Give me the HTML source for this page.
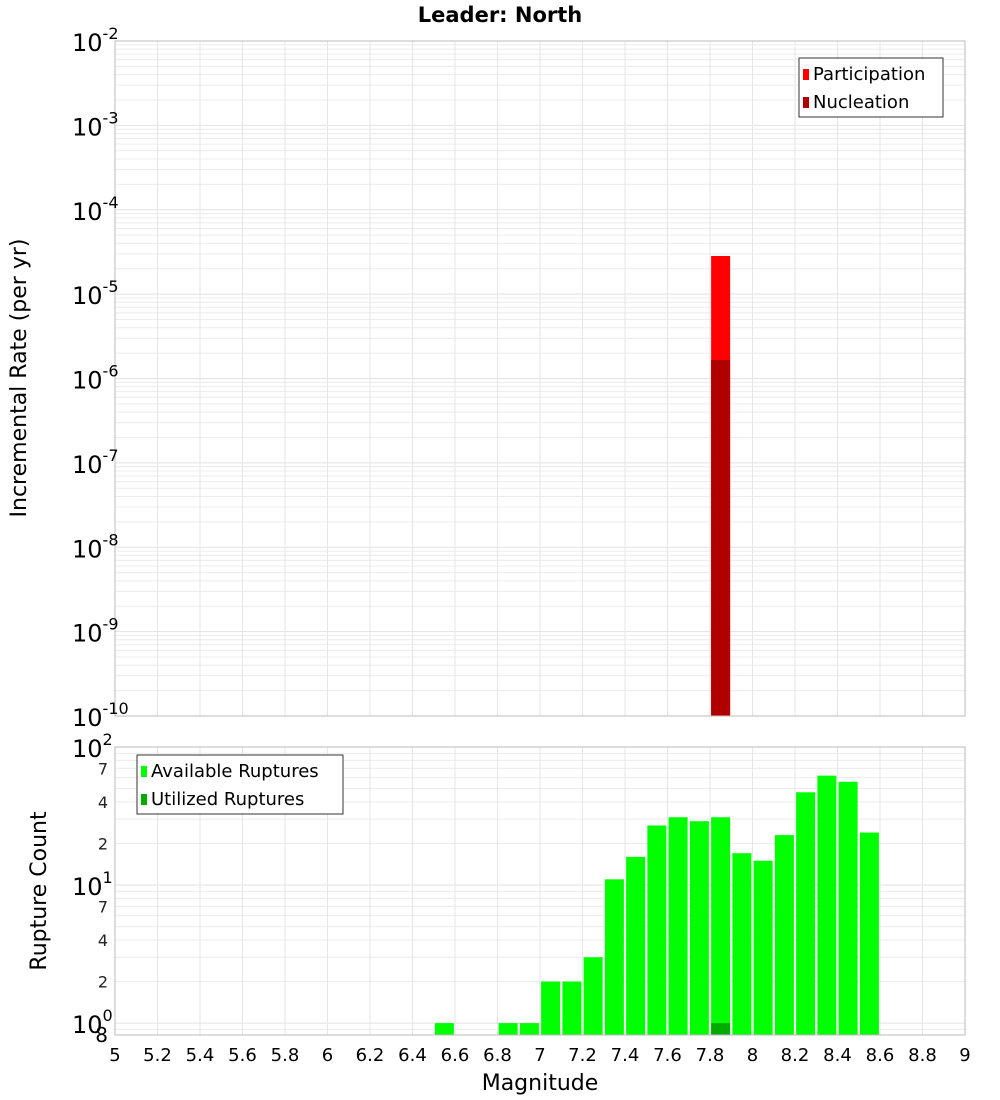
<!DOCTYPE html>
<html><head><meta charset="utf-8"><style>
body{margin:0;background:#fff;font-family:"DejaVu Sans","Liberation Sans",sans-serif}
svg{display:block}
</style></head><body>
<svg id="chart" width="1000" height="1100" xmlns="http://www.w3.org/2000/svg" font-family="DejaVu Sans, Liberation Sans, sans-serif">
<text x="500" y="22" text-anchor="middle" font-size="21" font-weight="bold">Leader: North</text>
<g id="topPlot"></g><g id="botPlot"></g>
<text transform="translate(26,378) rotate(-90)" text-anchor="middle" font-size="22">Incremental Rate (per yr)</text>
<text transform="translate(46,891) rotate(-90)" text-anchor="middle" font-size="22">Rupture Count</text>
<text x="540" y="1090" text-anchor="middle" font-size="22">Magnitude</text>
</svg>
<script>
const binCenters = [6.55,6.85,6.95,7.05,7.15,7.25,7.35,7.45,7.55,7.65,7.75,7.85,7.95,8.05,8.15,8.25,8.35,8.45,8.55];
const availableCounts = [1,1,1,2,2,3,11,16,27,31,29,31,17,15,23,47,62,56,24];
const utilizedCenters = [7.85];
const utilizedCounts = [1];
const rateCenters = [7.85];
const participationRates = [2.83e-5];
const nucleationRates = [1.66e-6];
const xTicks = [5,5.2,5.4,5.6,5.8,6,6.2,6.4,6.6,6.8,7,7.2,7.4,7.6,7.8,8,8.2,8.4,8.6,8.8,9];
const topDecades = [-2,-3,-4,-5,-6,-7,-8,-9,-10];
const botMinorLabels = [2,4,7];

const NS="http://www.w3.org/2000/svg";
const X0=115,X1=965;
const xs=v=>X0+(v-5)/4*(X1-X0);
const T0=41,T1=716,tMax=-2,tMin=-10;
const ty=v=>T0+(tMax-Math.log10(v))/(tMax-tMin)*(T1-T0);
const B0=747,B1=1035,bMax=2,bMin=Math.log10(0.82);
const by=v=>B0+(bMax-Math.log10(v))/(bMax-bMin)*(B1-B0);
function mk(p,tag,a,txt){const e=document.createElementNS(NS,tag);for(const k in a)e.setAttribute(k,a[k]);if(txt!=null)e.textContent=txt;p.appendChild(e);return e;}
const topG=document.getElementById('topPlot'),botG=document.getElementById('botPlot');

function grid(g,y0,y1,yf,dmin,dmax){
  for(let d=Math.floor(dmin);d<dmax;d++){for(let m=1;m<10;m++){const v=m*Math.pow(10,d);const y=yf(v);if(y<y0-0.5||y>y1+0.5)continue;
    const l=mk(g,'line',{x1:X0,x2:X1,y1:y,y2:y,stroke:m==1?'#e2e2e2':'#ececec','stroke-width':1});
    
    }}
  xTicks.forEach(t=>{const l=mk(g,'line',{x1:xs(t),x2:xs(t),y1:y0,y2:y1,stroke:'#e6e6e6'});
    
    });
}
grid(topG,T0,T1,ty,tMin,tMax);
grid(botG,B0,B1,by,-1,bMax);

const bw=19;
rateCenters.forEach((c,i)=>{
  const r=mk(topG,'rect',{x:xs(c)-bw/2,y:ty(participationRates[i]),width:bw,height:T1-ty(participationRates[i]),fill:'#ff0000'});
  
  
  const n=mk(topG,'rect',{x:xs(c)-bw/2,y:ty(nucleationRates[i]),width:bw,height:T1-ty(nucleationRates[i]),fill:'#b00000'});
  
  
});
const tf=mk(topG,'rect',{x:X0,y:T0,width:X1-X0,height:T1-T0,fill:'none',stroke:'#bbb'});


topDecades.forEach(d=>{const y=ty(Math.pow(10,d));
  const t=mk(topG,'text',{x:72,y:y+10,'font-size':24});
  
  
  mk(t,'tspan',{},'10');mk(t,'tspan',{dy:-12,'font-size':16},String(d));});

const bw2=19;
binCenters.forEach((c,i)=>{
  const r=mk(botG,'rect',{x:xs(c)-bw2/2,y:by(availableCounts[i]),width:bw2,height:B1-by(availableCounts[i]),fill:'#00ff00'});
  
  
});
utilizedCenters.forEach((c,i)=>{
  const r=mk(botG,'rect',{x:xs(c)-bw2/2,y:by(utilizedCounts[i]),width:bw2,height:B1-by(utilizedCounts[i]),fill:'#00aa00'});
  
  
});
const bf=mk(botG,'rect',{x:X0,y:B0,width:X1-X0,height:B1-B0,fill:'none',stroke:'#bbb'});


[2,1,0].forEach(d=>{const y=by(Math.pow(10,d));
  const t=mk(botG,'text',{x:72,y:y+10,'font-size':24});
  
  
  mk(t,'tspan',{},'10');mk(t,'tspan',{dy:-12,'font-size':16},String(d));});
[0,1].forEach(d=>botMinorLabels.forEach(m=>{const y=by(m*Math.pow(10,d));
  const t=mk(botG,'text',{x:108,y:y+6,'font-size':16,'text-anchor':'end',fill:'#222'},String(m));
  
  }));
const e8=mk(botG,'text',{x:108,y:1042,'font-size':20,'text-anchor':'end'},'8');


xTicks.forEach(t=>{const tx=mk(botG,'text',{x:xs(t),y:1061,'font-size':18,'text-anchor':'middle'},String(t));
  
  });

function legend(g,x,y,w,items,name){
  const lg=mk(g,'g',{});
  
  
  mk(lg,'rect',{x:x,y:y,width:w,height:59,fill:'#fff',stroke:'#333'});
  items.forEach((it,i)=>{const e=mk(lg,'g',{});
    
    
    mk(e,'rect',{x:x+4,y:y+11+i*28,width:6,height:11,fill:it[1]});
    mk(e,'text',{x:x+14,y:y+22+i*28,'font-size':18},it[0]);});
}
legend(topG,799,58,144,[['Participation','#ff0000'],['Nucleation','#b00000']],'legend-top');
legend(botG,137,755,206,[['Available Ruptures','#00ff00'],['Utilized Ruptures','#00aa00']],'legend-bottom');
</script>
</body></html>
